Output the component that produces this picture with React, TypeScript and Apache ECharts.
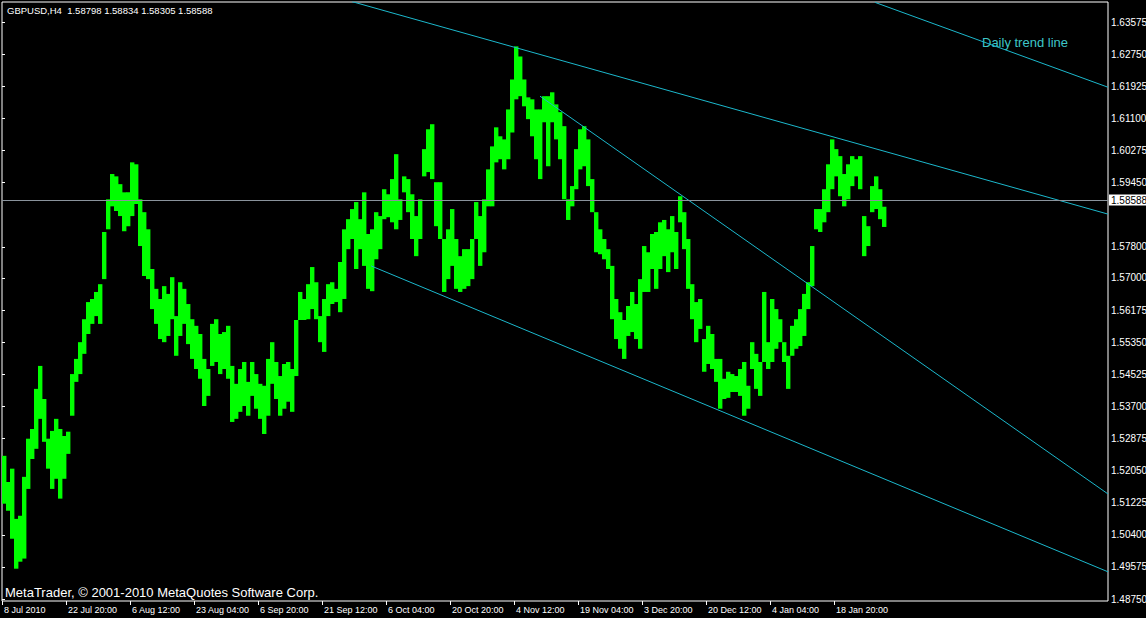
import React, { useEffect, useRef } from 'react';
import * as echarts from 'echarts';

// GBPUSD H4, each column aggregates 4 consecutive H4 bars (high / low of the group)
const BARS_PER_COLUMN = 4;
const VISIBLE_BARS = 1106;

const COLUMN_HIGH = [
  1.5243, 1.5176, 1.5210, 1.5081, 1.5089, 1.5189, 1.5287, 1.5312, 1.5415, 1.5474,
  1.5389, 1.5287, 1.5307, 1.5338, 1.5312, 1.5294, 1.5305, 1.5453, 1.5492, 1.5535,
  1.5594, 1.5638, 1.5646, 1.5664, 1.5684, 1.5818, 1.5902, 1.5967, 1.5961, 1.5941,
  1.5920, 1.5920, 1.5997, 1.5992, 1.5902, 1.5869, 1.5825, 1.5723, 1.5672, 1.5646,
  1.5679, 1.5659, 1.5702, 1.5602, 1.5689, 1.5672, 1.5633, 1.5594, 1.5577, 1.5556,
  1.5492, 1.5466, 1.5582, 1.5594, 1.5556, 1.5561, 1.5577, 1.5474, 1.5428, 1.5466,
  1.5484, 1.5433, 1.5484, 1.5453, 1.5428, 1.5423, 1.5492, 1.5535, 1.5484, 1.5448,
  1.5479, 1.5484, 1.5466, 1.5592, 1.5664, 1.5646, 1.5684, 1.5728, 1.5689, 1.5602,
  1.5646, 1.5684, 1.5689, 1.5672, 1.5741, 1.5825, 1.5851, 1.5877, 1.5895, 1.5851,
  1.5920, 1.5813, 1.5825, 1.5869, 1.5859, 1.5928, 1.5915, 1.5954, 1.6018, 1.5902,
  1.5961, 1.5954, 1.5915, 1.5859, 1.5902, 1.6031, 1.6082, 1.6095, 1.5946, 1.5946,
  1.5800, 1.5825, 1.5877, 1.5800, 1.5756, 1.5774, 1.5774, 1.5800, 1.5895, 1.5859,
  1.5902, 1.5979, 1.6038, 1.6087, 1.6064, 1.6056, 1.6133, 1.6210, 1.6295, 1.6269,
  1.6210, 1.6164, 1.6159, 1.6133, 1.6133, 1.6167, 1.6167, 1.6177, 1.6146, 1.6126,
  1.6090, 1.5902, 1.5936, 1.6031, 1.6082, 1.6090, 1.6056, 1.5954, 1.5869, 1.5825,
  1.5800, 1.5774, 1.5731, 1.5646, 1.5612, 1.5592, 1.5628, 1.5664, 1.5633, 1.5697,
  1.5782, 1.5766, 1.5813, 1.5818, 1.5843, 1.5849, 1.5825, 1.5859, 1.5818, 1.5910,
  1.5869, 1.5800, 1.5684, 1.5638, 1.5646, 1.5543, 1.5577, 1.5556, 1.5492, 1.5492,
  1.5441, 1.5459, 1.5453, 1.5448, 1.5466, 1.5484, 1.5423, 1.5535, 1.5505, 1.5484,
  1.5664, 1.5535, 1.5646, 1.5620, 1.5594, 1.5535, 1.5500, 1.5577, 1.5594, 1.5620,
  1.5659, 1.5689, 1.5782, 1.5877, 1.5877, 1.5928, 1.5992, 1.6056, 1.6031, 1.6013,
  1.5967, 1.5992, 1.6013, 1.6005, 1.6013, 1.5859, 1.5833, 1.5936, 1.5961, 1.5928,
  1.5883,
];

const COLUMN_LOW = [
  1.5120, 1.5102, 1.5030, 1.4953, 1.4971, 1.4979, 1.5158, 1.5235, 1.5261, 1.5338,
  1.5279, 1.5210, 1.5158, 1.5184, 1.5133, 1.5184, 1.5248, 1.5346, 1.5433, 1.5453,
  1.5505, 1.5556, 1.5582, 1.5602, 1.5582, 1.5697, 1.5825, 1.5884, 1.5872, 1.5859,
  1.5820, 1.5833, 1.5859, 1.5890, 1.5782, 1.5705, 1.5697, 1.5620, 1.5582, 1.5543,
  1.5535, 1.5551, 1.5594, 1.5500, 1.5551, 1.5582, 1.5530, 1.5492, 1.5466, 1.5441,
  1.5371, 1.5397, 1.5474, 1.5484, 1.5453, 1.5466, 1.5441, 1.5330, 1.5338, 1.5356,
  1.5371, 1.5346, 1.5397, 1.5364, 1.5338, 1.5299, 1.5346, 1.5428, 1.5389, 1.5346,
  1.5364, 1.5382, 1.5356, 1.5448, 1.5592, 1.5592, 1.5594, 1.5620, 1.5594, 1.5535,
  1.5510, 1.5602, 1.5633, 1.5638, 1.5612, 1.5646, 1.5774, 1.5800, 1.5723, 1.5774,
  1.5731, 1.5672, 1.5666, 1.5748, 1.5774, 1.5851, 1.5856, 1.5843, 1.5825, 1.5849,
  1.5920, 1.5869, 1.5800, 1.5756, 1.5800, 1.5961, 1.5972, 1.5954, 1.5833, 1.5800,
  1.5664, 1.5697, 1.5731, 1.5672, 1.5664, 1.5672, 1.5679, 1.5697, 1.5800, 1.5731,
  1.5766, 1.5884, 1.5884, 1.5997, 1.6005, 1.5979, 1.6005, 1.6074, 1.6159, 1.6167,
  1.6141, 1.6108, 1.6064, 1.6005, 1.5954, 1.6100, 1.5987, 1.6100, 1.6056, 1.6005,
  1.5902, 1.5849, 1.5884, 1.5928, 1.5979, 1.5987, 1.5936, 1.5869, 1.5766, 1.5761,
  1.5748, 1.5723, 1.5594, 1.5543, 1.5518, 1.5492, 1.5551, 1.5561, 1.5543, 1.5518,
  1.5664, 1.5664, 1.5723, 1.5672, 1.5723, 1.5756, 1.5715, 1.5766, 1.5723, 1.5843,
  1.5774, 1.5672, 1.5594, 1.5535, 1.5569, 1.5459, 1.5479, 1.5466, 1.5433, 1.5364,
  1.5389, 1.5392, 1.5407, 1.5407, 1.5397, 1.5346, 1.5364, 1.5466, 1.5415, 1.5397,
  1.5484, 1.5466, 1.5484, 1.5518, 1.5535, 1.5484, 1.5415, 1.5500, 1.5518, 1.5525,
  1.5551, 1.5620, 1.5679, 1.5825, 1.5818, 1.5843, 1.5869, 1.5928, 1.5961, 1.5910,
  1.5884, 1.5902, 1.5936, 1.5961, 1.5928, 1.5756, 1.5782, 1.5869, 1.5877, 1.5851,
  1.5831,
];

// last H4 bar: open, high, low, close
const LAST_BAR = [1.58798, 1.58834, 1.58305, 1.58588];
const BID = 1.58588;

const PRICE_MIN = 1.487;
const PRICE_MAX = 1.6409;
const PRICE_TICKS = [
  1.4875, 1.49575, 1.504, 1.51225, 1.5205, 1.52875, 1.537, 1.54525, 1.5535,
  1.56175, 1.57, 1.578, 1.5945, 1.60275, 1.611, 1.61925, 1.6275, 1.63575,
];

const TIME_LABEL_BARS = [0, 64, 128, 192, 256, 320, 384, 448, 512, 576, 640, 704, 768, 832];
const TIME_LABELS = [
  '8 Jul 2010', '22 Jul 20:00', '6 Aug 12:00', '23 Aug 04:00', '6 Sep 20:00',
  '21 Sep 12:00', '6 Oct 04:00', '20 Oct 20:00', '4 Nov 12:00', '19 Nov 04:00',
  '3 Dec 20:00', '20 Dec 12:00', '4 Jan 04:00', '18 Jan 20:00',
];

// trend lines as [bar, price] anchors; each runs from its first anchor to the second
const TREND_LINES = [
  [[350, 1.641], [1106, 1.5864]],
  [[873, 1.6408], [1106, 1.619]],
  [[538, 1.6167], [1106, 1.5145]],
  [[369, 1.5731], [1106, 1.4945]],
];

const BAR_COLOR = '#00ff00';
const TREND_COLOR = '#1cb8cc';
const NARROW = '"Liberation Sans Narrow", "Liberation Sans", sans-serif';
const SANS = '"Liberation Sans", sans-serif';

export default function App() {
  const ref = useRef<HTMLDivElement>(null);

  useEffect(() => {
    if (!ref.current) return;
    const chart = echarts.init(ref.current, undefined, { renderer: 'svg' });

    const columns = COLUMN_HIGH.map((h, j) => [
      j * BARS_PER_COLUMN,
      (j + 1) * BARS_PER_COLUMN,
      h,
      COLUMN_LOW[j],
    ]);

    const header = 'GBPUSD,H4  ' + LAST_BAR.map((v) => v.toFixed(5)).join(' ');

    chart.setOption({
      animation: false,
      backgroundColor: '#000',
      grid: {
        left: 2,
        top: 2,
        right: 38,
        bottom: 17,
        show: true,
        borderColor: '#ffffff',
        borderWidth: 1,
        backgroundColor: '#000',
        containLabel: false,
        outerBoundsMode: 'none',
      },
      xAxis: {
        type: 'value',
        min: 0,
        max: VISIBLE_BARS,
        splitLine: { show: false },
        axisLine: { show: false },
        axisTick: {
          show: true,
          customValues: TIME_LABEL_BARS,
          length: 4,
          lineStyle: { color: '#ffffff', width: 1 },
        },
        axisLabel: {
          customValues: TIME_LABEL_BARS,
          formatter: (v: number) => TIME_LABELS[TIME_LABEL_BARS.indexOf(v)] ?? '',
          color: '#ffffff',
          align: 'left',
          margin: 4,
          fontSize: 9,
          fontFamily: NARROW,
          padding: [0, 0, 0, 2],
        },
      },
      yAxis: {
        type: 'value',
        position: 'right',
        min: PRICE_MIN,
        max: PRICE_MAX,
        splitLine: { show: false },
        axisLine: { show: false },
        axisTick: {
          show: true,
          customValues: PRICE_TICKS,
          length: 3,
          lineStyle: { color: '#ffffff', width: 1 },
        },
        axisLabel: {
          customValues: PRICE_TICKS,
          formatter: (v: number) => v.toFixed(5),
          color: '#ffffff',
          margin: 3,
          fontSize: 10,
          fontFamily: NARROW,
        },
      },
      series: [
        {
          type: 'custom',
          silent: true,
          clip: true,
          data: columns,
          encode: { x: [0, 1], y: [2, 3] },
          renderItem: (params: any, api: any) => {
            const topLeft = api.coord([api.value(0), api.value(2)]);
            const bottomRight = api.coord([api.value(1), api.value(3)]);
            return {
              type: 'rect',
              shape: {
                x: topLeft[0],
                y: topLeft[1],
                width: bottomRight[0] - topLeft[0] + 0.4,
                height: Math.max(1, bottomRight[1] - topLeft[1]),
              },
              style: { fill: BAR_COLOR },
            };
          },
          markLine: {
            silent: true,
            symbol: ['none', 'none'],
            data: [{ yAxis: BID }],
            lineStyle: { color: '#8a939c', width: 1, type: 'solid' },
            label: {
              show: true,
              position: 'end',
              distance: 1,
              formatter: BID.toFixed(5),
              color: '#000',
              backgroundColor: '#ffffff',
              padding: [1, 2, 0, 2],
              fontSize: 10,
              fontFamily: NARROW,
            },
            emphasis: { disabled: true },
          },
        },
        ...TREND_LINES.map((pts) => ({
          type: 'line',
          silent: true,
          clip: true,
          symbol: 'none',
          data: pts,
          lineStyle: { color: TREND_COLOR, width: 1 },
          z: 3,
        })),
      ],
      graphic: [
        {
          type: 'text',
          left: 7,
          top: 5,
          style: { text: header, fill: '#ffffff', font: '9.5px ' + NARROW },
        },
        {
          type: 'text',
          left: 982,
          top: 36,
          style: { text: 'Daily trend line', fill: '#3ec6c8', font: '13px ' + SANS },
        },
        {
          type: 'text',
          left: 5,
          top: 586,
          style: {
            text: 'MetaTrader, © 2001-2010 MetaQuotes Software Corp.',
            fill: '#ffffff',
            font: '13px ' + SANS,
          },
        },
      ],
    });

    return () => chart.dispose();
  }, []);

  return (
    <div
      ref={ref}
      style={{ position: 'fixed', left: 0, top: 0, width: 1146, height: 618, background: '#000' }}
    />
  );
}
